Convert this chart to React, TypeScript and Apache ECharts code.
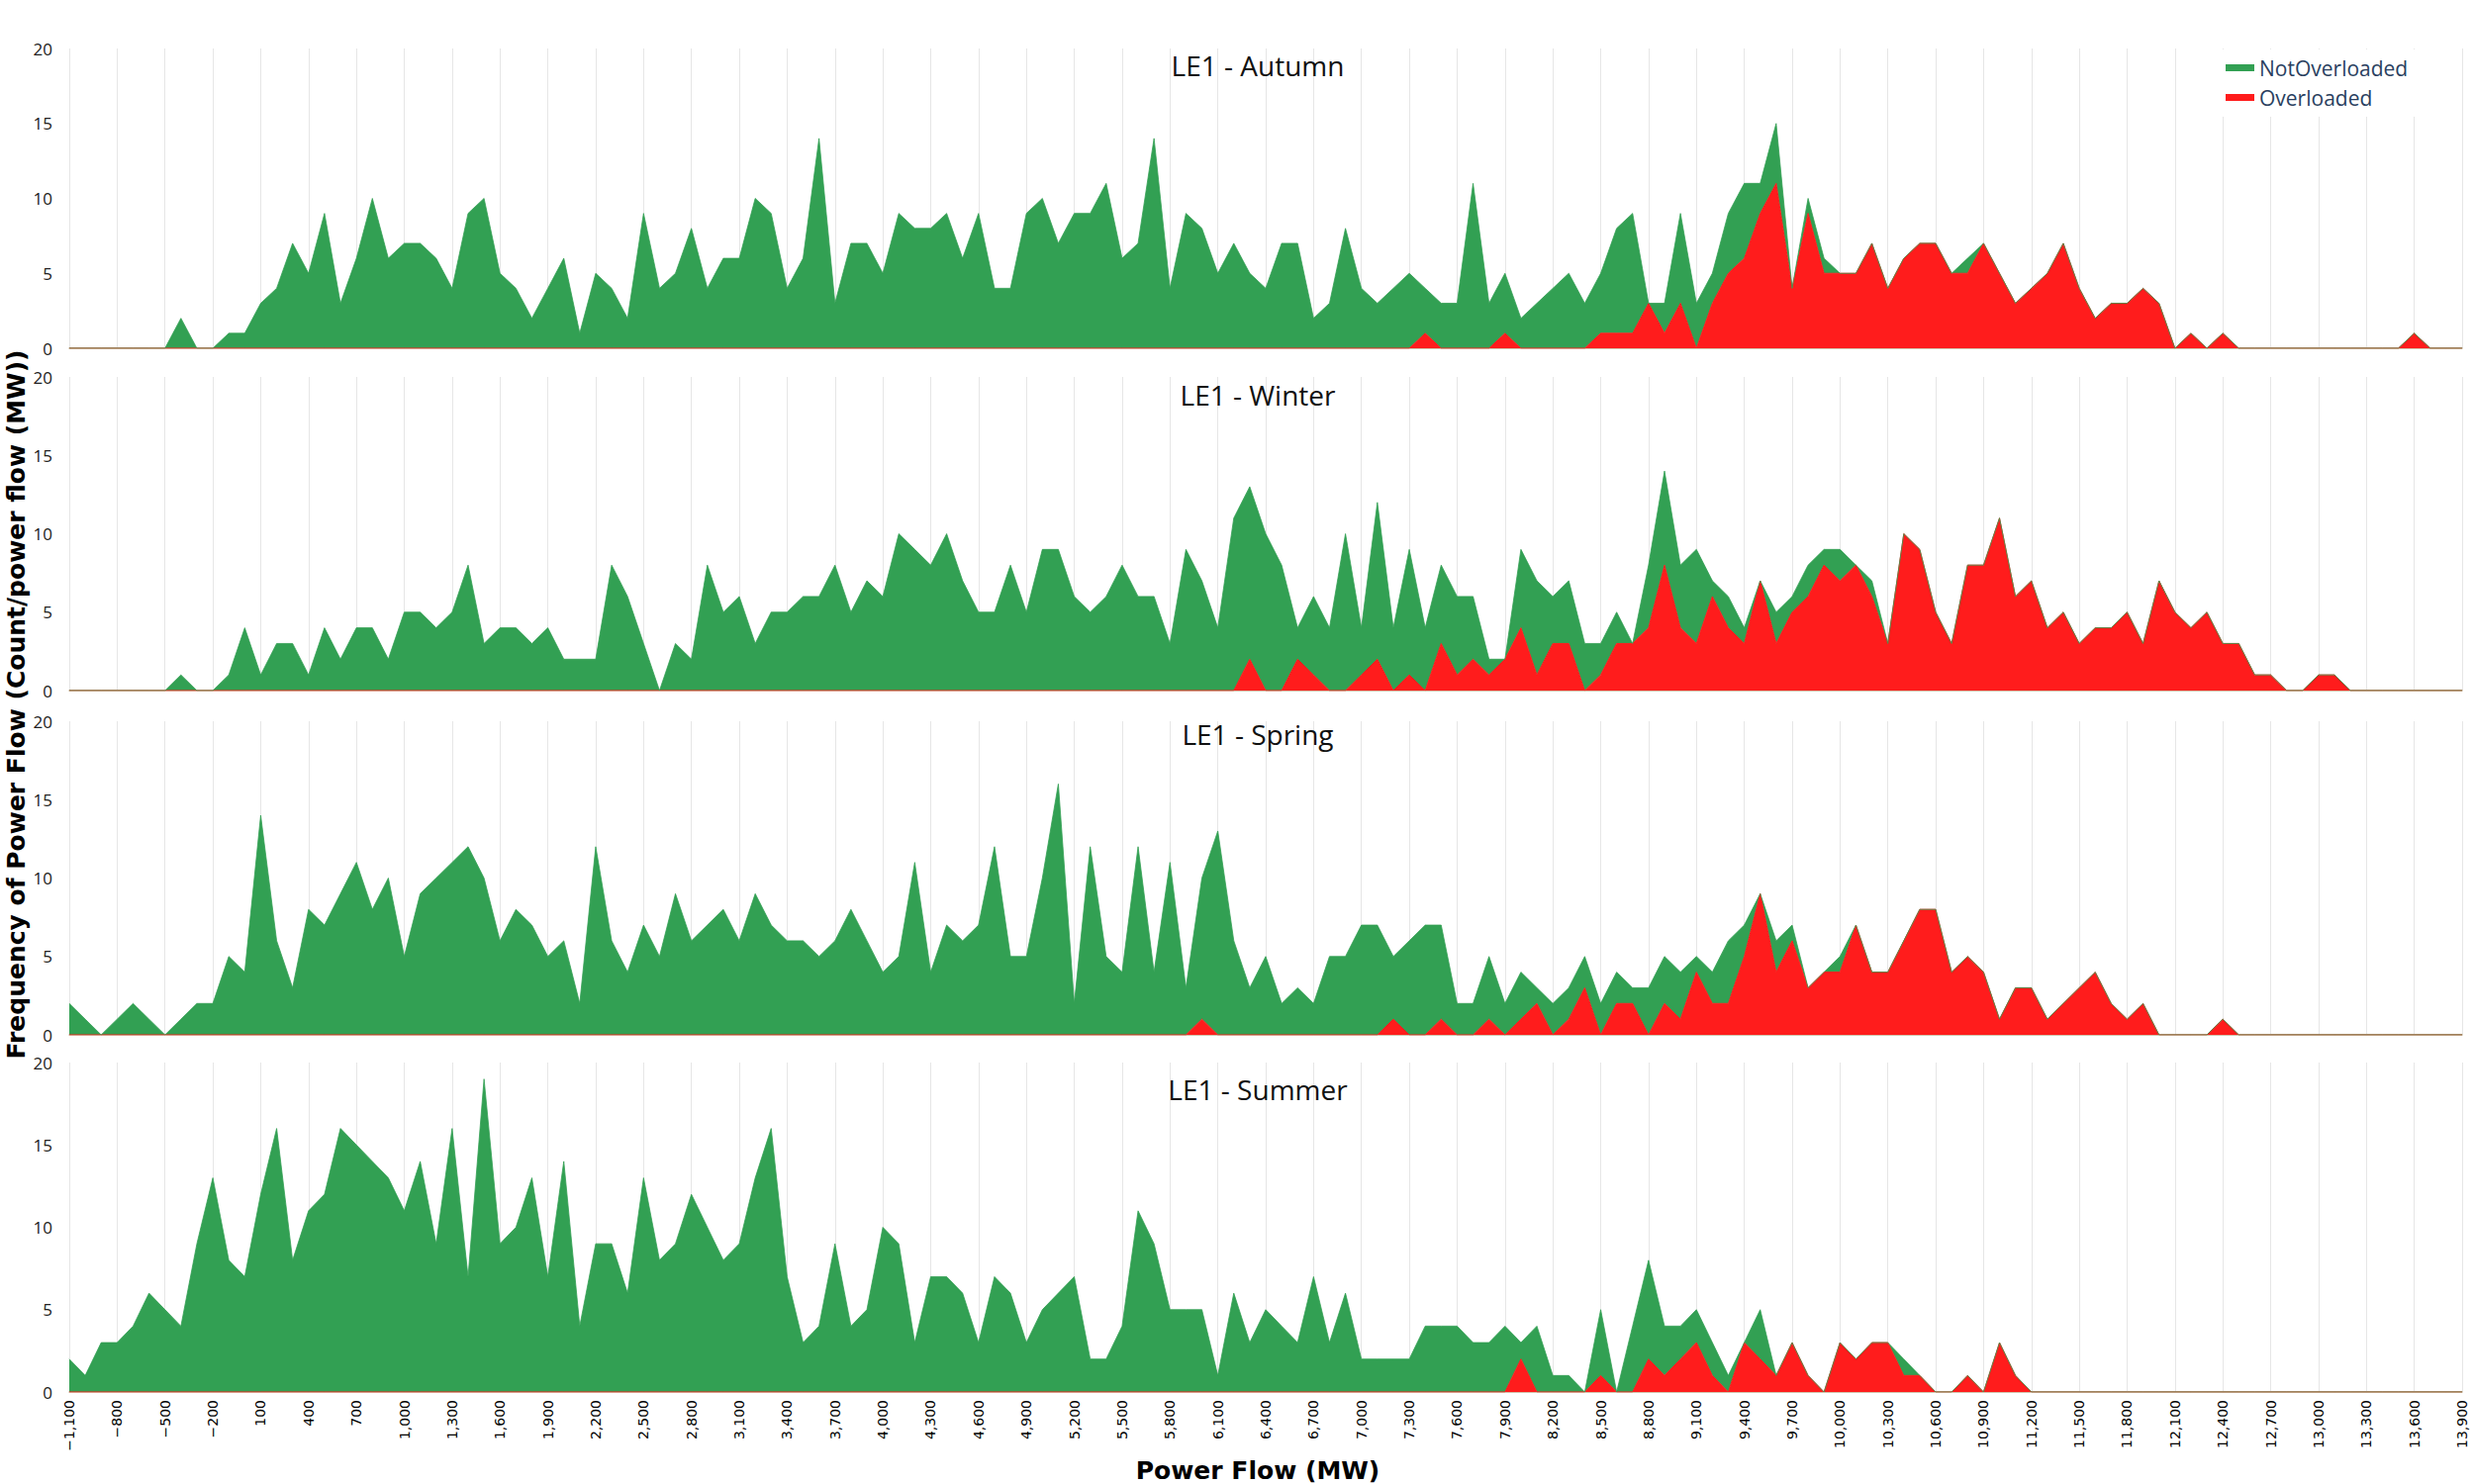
import React, { useEffect, useRef } from "react";
import * as echarts from "echarts";

const binStart = -1100;
const binEnd = 13900;
const binStep = 100;

const panelTitles = ["LE1 - Autumn", "LE1 - Winter", "LE1 - Spring", "LE1 - Summer"];
const seriesNames = ["NotOverloaded", "Overloaded"];
const yTicks = { min: 0, max: 20, interval: 5 };

// total counts per 100 MW bin (-1100 .. 13900)
const autumnTotal = [
  0,0,0,0,0,0,0,2,0,0,
  1,1,3,4,7,5,9,3,6,10,
  6,7,7,6,4,9,10,5,4,2,
  4,6,1,5,4,2,9,4,5,8,
  4,6,6,10,9,4,6,14,3,7,
  7,5,9,8,8,9,6,9,4,4,
  9,10,7,9,9,11,6,7,14,4,
  9,8,5,7,5,4,7,7,2,3,
  8,4,3,4,5,4,3,3,11,3,
  5,2,3,4,5,3,5,8,9,3,
  3,9,3,5,9,11,11,15,4,10,
  6,5,5,7,4,6,7,7,5,6,
  7,5,3,4,5,7,4,2,3,3,
  4,3,0,1,0,1,0,0,0,0,
  0,0,0,0,0,0,0,1,0,0,
  0,
];
const autumnOver = [
  0,0,0,0,0,0,0,0,0,0,
  0,0,0,0,0,0,0,0,0,0,
  0,0,0,0,0,0,0,0,0,0,
  0,0,0,0,0,0,0,0,0,0,
  0,0,0,0,0,0,0,0,0,0,
  0,0,0,0,0,0,0,0,0,0,
  0,0,0,0,0,0,0,0,0,0,
  0,0,0,0,0,0,0,0,0,0,
  0,0,0,0,0,1,0,0,0,0,
  1,0,0,0,0,0,1,1,1,3,
  1,3,0,3,5,6,9,11,4,9,
  5,5,5,7,4,6,7,7,5,5,
  7,5,3,4,5,7,4,2,3,3,
  4,3,0,1,0,1,0,0,0,0,
  0,0,0,0,0,0,0,1,0,0,
  0,
];

const winterTotal = [
  0,0,0,0,0,0,0,1,0,0,
  1,4,1,3,3,1,4,2,4,4,
  2,5,5,4,5,8,3,4,4,3,
  4,2,2,2,8,6,3,0,3,2,
  8,5,6,3,5,5,6,6,8,5,
  7,6,10,9,8,10,7,5,5,8,
  5,9,9,6,5,6,8,6,6,3,
  9,7,4,11,13,10,8,4,6,4,
  10,4,12,4,9,4,8,6,6,2,
  2,9,7,6,7,3,3,5,3,8,
  14,8,9,7,6,4,7,5,6,8,
  9,9,8,7,3,10,9,5,3,8,
  8,11,6,7,4,5,3,4,4,5,
  3,7,5,4,5,3,3,1,1,0,
  0,1,1,0,0,0,0,0,0,0,
  0,
];
const winterOver = [
  0,0,0,0,0,0,0,0,0,0,
  0,0,0,0,0,0,0,0,0,0,
  0,0,0,0,0,0,0,0,0,0,
  0,0,0,0,0,0,0,0,0,0,
  0,0,0,0,0,0,0,0,0,0,
  0,0,0,0,0,0,0,0,0,0,
  0,0,0,0,0,0,0,0,0,0,
  0,0,0,0,2,0,0,2,1,0,
  0,1,2,0,1,0,3,1,2,1,
  2,4,1,3,3,0,1,3,3,4,
  8,4,3,6,4,3,7,3,5,6,
  8,7,8,6,3,10,9,5,3,8,
  8,11,6,7,4,5,3,4,4,5,
  3,7,5,4,5,3,3,1,1,0,
  0,1,1,0,0,0,0,0,0,0,
  0,
];

const springTotal = [
  2,1,0,1,2,1,0,1,2,2,
  5,4,14,6,3,8,7,9,11,8,
  10,5,9,10,11,12,10,6,8,7,
  5,6,2,12,6,4,7,5,9,6,
  7,8,6,9,7,6,6,5,6,8,
  6,4,5,11,4,7,6,7,12,5,
  5,10,16,2,12,5,4,12,4,11,
  3,10,13,6,3,5,2,3,2,5,
  5,7,7,5,6,7,7,2,2,5,
  2,4,3,2,3,5,2,4,3,3,
  5,4,5,4,6,7,9,6,7,3,
  4,5,7,4,4,6,8,8,4,5,
  4,1,3,3,1,2,3,4,2,1,
  2,0,0,0,0,1,0,0,0,0,
  0,0,0,0,0,0,0,0,0,0,
  0,
];
const springOver = [
  0,0,0,0,0,0,0,0,0,0,
  0,0,0,0,0,0,0,0,0,0,
  0,0,0,0,0,0,0,0,0,0,
  0,0,0,0,0,0,0,0,0,0,
  0,0,0,0,0,0,0,0,0,0,
  0,0,0,0,0,0,0,0,0,0,
  0,0,0,0,0,0,0,0,0,0,
  0,1,0,0,0,0,0,0,0,0,
  0,0,0,1,0,0,1,0,0,1,
  0,1,2,0,1,3,0,2,2,0,
  2,1,4,2,2,5,9,4,6,3,
  4,4,7,4,4,6,8,8,4,5,
  4,1,3,3,1,2,3,4,2,1,
  2,0,0,0,0,1,0,0,0,0,
  0,0,0,0,0,0,0,0,0,0,
  0,
];

const summerTotal = [
  2,1,3,3,4,6,5,4,9,13,
  8,7,12,16,8,11,12,16,15,14,
  13,11,14,9,16,7,19,9,10,13,
  7,14,4,9,9,6,13,8,9,12,
  10,8,9,13,16,7,3,4,9,4,
  5,10,9,3,7,7,6,3,7,6,
  3,5,6,7,2,2,4,11,9,5,
  5,5,1,6,3,5,4,3,7,3,
  6,2,2,2,2,4,4,4,3,3,
  4,3,4,1,1,0,5,0,4,8,
  4,4,5,3,1,3,5,1,3,1,
  0,3,2,3,3,2,1,0,0,1,
  0,3,1,0,0,0,0,0,0,0,
  0,0,0,0,0,0,0,0,0,0,
  0,0,0,0,0,0,0,0,0,0,
  0,
];
const summerOver = [
  0,0,0,0,0,0,0,0,0,0,
  0,0,0,0,0,0,0,0,0,0,
  0,0,0,0,0,0,0,0,0,0,
  0,0,0,0,0,0,0,0,0,0,
  0,0,0,0,0,0,0,0,0,0,
  0,0,0,0,0,0,0,0,0,0,
  0,0,0,0,0,0,0,0,0,0,
  0,0,0,0,0,0,0,0,0,0,
  0,0,0,0,0,0,0,0,0,0,
  0,2,0,0,0,0,1,0,0,2,
  1,2,3,1,0,3,2,1,3,1,
  0,3,2,3,3,1,1,0,0,1,
  0,3,1,0,0,0,0,0,0,0,
  0,0,0,0,0,0,0,0,0,0,
  0,0,0,0,0,0,0,0,0,0,
  0,
];

const panels = [
  { title: panelTitles[0], total: autumnTotal, over: autumnOver },
  { title: panelTitles[1], total: winterTotal, over: winterOver },
  { title: panelTitles[2], total: springTotal, over: springOver },
  { title: panelTitles[3], total: summerTotal, over: summerOver },
];

const GREEN = "#32a053";
const RED = "#ff1c1c";
const GRID_LEFT = 70;
const GRID_WIDTH = 2418;
const gridBoxes = [
  { top: 49, height: 303, titleY: 66 },
  { top: 381, height: 317, titleY: 399 },
  { top: 729, height: 317, titleY: 742 },
  { top: 1074, height: 333, titleY: 1101 },
];

const bins: string[] = [];
for (let v = binStart; v <= binEnd; v += binStep) bins.push(String(v));

function fmtLabel(v: string) {
  const n = Number(v);
  const s = Math.abs(n).toLocaleString("en-US");
  return n < 0 ? "\u2212" + s : s;
}

export default function App() {
  const ref = useRef<HTMLDivElement>(null);
  useEffect(() => {
    if (!ref.current) return;
    const chart = echarts.init(ref.current, undefined, { renderer: "svg" });
    const grid: any[] = [];
    const xAxis: any[] = [];
    const yAxis: any[] = [];
    const series: any[] = [];
    const graphic: any[] = [];
    panels.forEach((p, i) => {
      const g = gridBoxes[i];
      const last = i === panels.length - 1;
      grid.push({ left: GRID_LEFT, width: GRID_WIDTH, top: g.top, height: g.height, containLabel: false });
      xAxis.push({
        type: "category",
        gridIndex: i,
        data: bins,
        boundaryGap: false,
        axisLine: { show: true, lineStyle: { color: "#c2b293", width: 1.5 } },
        axisTick: { show: false, interval: 2 },
        axisLabel: {
          show: last,
          interval: 2,
          rotate: 90,
          margin: 8,
          fontSize: 14,
          fontFamily: "DejaVu Sans",
          color: "#000",
          formatter: fmtLabel,
        },
        splitLine: { show: true, interval: 2, lineStyle: { color: "#e6e6e6", width: 1 } },
      });
      yAxis.push({
        type: "value",
        gridIndex: i,
        min: yTicks.min,
        max: yTicks.max,
        interval: yTicks.interval,
        axisLine: { show: false },
        axisTick: { show: false },
        splitLine: { show: false },
        axisLabel: { fontSize: 17, fontFamily: "Open Sans", color: "#222", margin: 17 },
      });
      const notOver = p.total.map((t, k) => Math.max(0, t - p.over[k]));
      series.push({
        name: seriesNames[1],
        type: "line",
        xAxisIndex: i,
        yAxisIndex: i,
        stack: "s" + i,
        data: p.over,
        symbol: "none",
        showSymbol: false,
        itemStyle: { color: RED },
        lineStyle: { width: 1, color: RED },
        areaStyle: { color: RED, opacity: 1 },
      });
      series.push({
        name: seriesNames[0],
        type: "line",
        xAxisIndex: i,
        yAxisIndex: i,
        stack: "s" + i,
        data: notOver,
        symbol: "none",
        showSymbol: false,
        itemStyle: { color: GREEN },
        lineStyle: { width: 0.8, color: GREEN },
        areaStyle: { color: GREEN, opacity: 1 },
      });
      graphic.push({
        type: "text",
        x: 1271,
        y: g.titleY,
        z: 10,
        style: {
          text: p.title,
          fontSize: 28,
          fontFamily: "Open Sans",
          fill: "#111",
          textAlign: "center",
          textVerticalAlign: "middle",
        },
      });
    });
    graphic.push({
      type: "text",
      x: 16,
      y: 712,
      rotation: Math.PI / 2,
      z: 10,
      style: {
        text: "Frequency of Power Flow (Count/power flow (MW))",
        fontSize: 25,
        fontWeight: "bold",
        fontFamily: "DejaVu Sans",
        fill: "#000",
        textAlign: "center",
        textVerticalAlign: "middle",
      },
    });
    graphic.push({
      type: "text",
      x: 1271,
      y: 1486,
      z: 10,
      style: {
        text: "Power Flow (MW)",
        fontSize: 25,
        fontWeight: "bold",
        fontFamily: "DejaVu Sans",
        fill: "#000",
        textAlign: "center",
        textVerticalAlign: "middle",
      },
    });
    chart.setOption({
      animation: false,
      backgroundColor: "#fff",
      grid,
      xAxis,
      yAxis,
      series,
      graphic,
      legend: {
        data: seriesNames,
        orient: "vertical",
        left: 2244,
        top: 50,
        padding: [8, 25, 9, 5],
        itemGap: 9,
        itemWidth: 29,
        itemHeight: 7,
        icon: "rect",
        backgroundColor: "#fff",
        textStyle: { fontSize: 21, fontFamily: "Open Sans", color: "#2a3f5f", lineHeight: 20 },
      },
    });
    return () => chart.dispose();
  }, []);
  return (
    <div
      ref={ref}
      style={{ position: "absolute", left: 0, top: 0, width: 2500, height: 1500 }}
    />
  );
}
